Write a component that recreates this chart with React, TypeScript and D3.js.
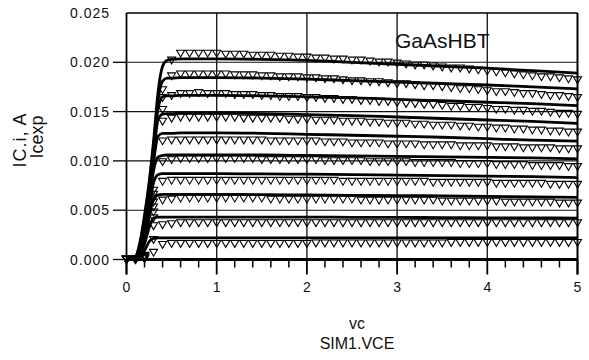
import React from 'react';
import * as d3 from 'd3';

const W = 589;
const H = 360;

const xTicks = [0, 1, 2, 3, 4, 5];
const xTickLabels = ['0', '1', '2', '3', '4', '5'];
const yTicks = [0, 0.005, 0.01, 0.015, 0.02, 0.025];
const yTickLabels = ['0.000', '0.005', '0.010', '0.015', '0.020', '0.025'];
const yTitle = ['IC.i, A', 'Icexp'];
const xTitle = ['vc', 'SIM1.VCE'];
const plotLabel = 'GaAsHBT';

// simulated curves (mA) on a shared VCE grid
const simVce = [0, 0.1, 0.15, 0.2, 0.25, 0.3, 0.35, 0.4, 0.45, 0.5, 0.6, 1, 1.5, 2, 2.5, 3, 3.5, 4, 4.5, 5];
const sim1 = [0, 0.3, 1.8, 4.5, 7.8, 12.0, 17.0, 19.6, 20.2, 20.3, 20.35, 20.35, 20.3, 20.2, 20.0, 19.8, 19.6, 19.4, 19.15, 18.9];
const sim2 = [0, 0.25, 1.6, 4.2, 7.4, 11.5, 16.2, 18.1, 18.4, 18.4, 18.45, 18.45, 18.4, 18.3, 18.15, 18.0, 17.85, 17.7, 17.5, 17.3];
const sim3 = [0, 0.2, 1.4, 3.9, 7.0, 11.0, 15.3, 16.5, 16.6, 16.6, 16.65, 16.65, 16.6, 16.5, 16.4, 16.25, 16.1, 15.95, 15.8, 15.6];
const sim4 = [0, 0.2, 1.3, 3.6, 6.6, 10.5, 14.2, 14.75, 14.8, 14.8, 14.85, 14.85, 14.8, 14.7, 14.6, 14.45, 14.3, 14.15, 14.0, 13.8];
const sim5 = [0, 0.15, 1.1, 3.2, 6.1, 9.9, 12.5, 12.8, 12.8, 12.8, 12.85, 12.85, 12.8, 12.7, 12.6, 12.5, 12.4, 12.25, 12.1, 12.0];
const sim6 = [0, 0.15, 1.0, 2.9, 5.6, 9.0, 10.4, 10.55, 10.6, 10.6, 10.6, 10.6, 10.6, 10.55, 10.5, 10.45, 10.4, 10.35, 10.3, 10.2];
const sim7 = [0, 0.1, 0.8, 2.5, 5.0, 7.8, 8.6, 8.7, 8.7, 8.7, 8.7, 8.7, 8.68, 8.65, 8.6, 8.55, 8.5, 8.45, 8.4, 8.3];
const sim8 = [0, 0.1, 0.7, 2.1, 4.2, 6.2, 6.55, 6.6, 6.6, 6.6, 6.6, 6.6, 6.58, 6.55, 6.5, 6.48, 6.45, 6.4, 6.35, 6.3];
const sim9 = [0, 0.08, 0.5, 1.6, 3.2, 4.2, 4.3, 4.3, 4.3, 4.3, 4.3, 4.3, 4.3, 4.3, 4.28, 4.27, 4.25, 4.23, 4.22, 4.2];
const sim10 = [0, 0.05, 0.3, 0.9, 1.8, 2.15, 2.2, 2.2, 2.2, 2.2, 2.2, 2.2, 2.2, 2.2, 2.2, 2.2, 2.2, 2.2, 2.2, 2.2];
const simCurves = [sim1, sim2, sim3, sim4, sim5, sim6, sim7, sim8, sim9, sim10];

// measured points (mA) every 0.1 V from 0 to 5
const measVce = d3.range(51).map((i) => i / 10);
const meas1 = [0, 0, 0.4, 7.0, 17.2, 20.2,
  20.9, 20.9, 20.9, 20.9, 20.9,
  20.8, 20.8, 20.8, 20.7, 20.7, 20.7, 20.6, 20.6, 20.5, 20.5,
  20.4, 20.4, 20.3, 20.3, 20.2, 20.2, 20.1, 20.0, 20.0, 19.9,
  19.8, 19.7, 19.7, 19.6, 19.5, 19.4, 19.4, 19.3, 19.2, 19.1,
  19.0, 18.9, 18.8, 18.7, 18.6, 18.5, 18.5, 18.4, 18.3, 18.2];
const meas2 = [0, 0, 0.35, 6.6, 16.4, 18.6,
  18.8, 18.8, 18.8, 18.8, 18.8,
  18.8, 18.7, 18.7, 18.7, 18.6, 18.6, 18.5, 18.5, 18.5, 18.4,
  18.4, 18.3, 18.3, 18.2, 18.1, 18.1, 18.0, 18.0, 17.9, 17.8,
  17.8, 17.7, 17.6, 17.6, 17.5, 17.4, 17.3, 17.3, 17.2, 17.1,
  17.0, 17.0, 16.9, 16.8, 16.8, 16.7, 16.6, 16.6, 16.5, 16.4];
const meas3 = [0, 0, 0.3, 6.2, 15.2, 16.6,
  16.8, 16.8, 16.9, 16.8, 16.8,
  16.8, 16.7, 16.7, 16.7, 16.6, 16.6, 16.5, 16.5, 16.5, 16.4,
  16.4, 16.3, 16.3, 16.2, 16.2, 16.1, 16.1, 16.0, 16.0, 15.9,
  15.8, 15.8, 15.7, 15.7, 15.6, 15.5, 15.5, 15.4, 15.4, 15.3,
  15.2, 15.2, 15.1, 15.1, 15.0, 15.0, 14.9, 14.8, 14.8, 14.7];
const meas4 = [0, 0, 0.3, 5.8, 14.0, 14.3,
  14.4, 14.4, 14.4, 14.4, 14.4,
  14.4, 14.4, 14.3, 14.3, 14.3, 14.3, 14.3, 14.2, 14.2, 14.2,
  14.1, 14.1, 14.1, 14.0, 14.0, 14.0, 13.9, 13.9, 13.8, 13.8,
  13.8, 13.7, 13.7, 13.6, 13.6, 13.6, 13.5, 13.5, 13.4, 13.4,
  13.3, 13.3, 13.2, 13.2, 13.1, 13.1, 13.0, 13.0, 12.9, 12.9];
const meas5 = [0, 0, 0.25, 5.3, 12.0, 12.1,
  12.1, 12.1, 12.1, 12.1, 12.1,
  12.1, 12.1, 12.1, 12.1, 12.1, 12.0, 12.0, 12.0, 12.0, 12.0,
  12.0, 11.9, 11.9, 11.9, 11.8, 11.8, 11.8, 11.8, 11.7, 11.7,
  11.7, 11.7, 11.6, 11.6, 11.6, 11.6, 11.5, 11.5, 11.5, 11.5,
  11.4, 11.4, 11.4, 11.3, 11.3, 11.3, 11.3, 11.2, 11.2, 11.2];
const meas6 = [0, 0, 0.2, 4.8, 9.9, 10.1,
  10.2, 10.2, 10.2, 10.2, 10.2,
  10.2, 10.2, 10.2, 10.2, 10.1, 10.1, 10.1, 10.1, 10.1, 10.1,
  10.1, 10.0, 10.0, 10.0, 10.0, 10.0, 9.9, 9.9, 9.9, 9.9,
  9.9, 9.8, 9.8, 9.8, 9.8, 9.8, 9.7, 9.7, 9.7, 9.7,
  9.6, 9.6, 9.6, 9.6, 9.5, 9.5, 9.5, 9.5, 9.4, 9.4];
const meas7 = [0, 0, 0.2, 4.2, 7.9, 8.0,
  8.0, 8.0, 8.0, 8.0, 8.0,
  8.0, 8.0, 8.0, 8.0, 8.0, 8.0, 8.0, 8.0, 8.0, 8.0,
  8.0, 8.0, 8.0, 7.9, 7.9, 7.9, 7.9, 7.9, 7.9, 7.9,
  7.9, 7.9, 7.9, 7.8, 7.8, 7.8, 7.8, 7.8, 7.8, 7.8,
  7.7, 7.7, 7.7, 7.7, 7.7, 7.7, 7.6, 7.6, 7.6, 7.6];
const meas8 = [0, 0, 0.15, 3.4, 6.0, 6.1,
  6.2, 6.2, 6.2, 6.2, 6.2,
  6.2, 6.2, 6.2, 6.2, 6.2, 6.1, 6.1, 6.1, 6.1, 6.1,
  6.1, 6.1, 6.1, 6.1, 6.1, 6.0, 6.0, 6.0, 6.0, 6.0,
  6.0, 6.0, 6.0, 6.0, 5.9, 5.9, 5.9, 5.9, 5.9, 5.9,
  5.9, 5.8, 5.8, 5.8, 5.8, 5.8, 5.8, 5.7, 5.7, 5.7];
const meas9 = [0, 0, 0.1, 2.0, 3.5, 3.6,
  3.7, 3.7, 3.7, 3.7, 3.7,
  3.7, 3.7, 3.7, 3.7, 3.7, 3.7, 3.7, 3.7, 3.7, 3.7,
  3.7, 3.7, 3.7, 3.7, 3.7, 3.7, 3.7, 3.7, 3.7, 3.7,
  3.7, 3.7, 3.7, 3.7, 3.7, 3.7, 3.7, 3.7, 3.7, 3.7,
  3.7, 3.7, 3.7, 3.7, 3.7, 3.7, 3.7, 3.7, 3.7, 3.7];
const meas10 = [0, 0, 0.05, 0.7, 1.5, 1.6,
  1.6, 1.6, 1.6, 1.6, 1.6,
  1.6, 1.6, 1.6, 1.6, 1.6, 1.6, 1.6, 1.6, 1.6, 1.6,
  1.65, 1.65, 1.65, 1.65, 1.65, 1.65, 1.65, 1.65, 1.65, 1.65,
  1.65, 1.65, 1.65, 1.65, 1.65, 1.7, 1.7, 1.7, 1.7, 1.7,
  1.7, 1.7, 1.7, 1.7, 1.7, 1.7, 1.7, 1.7, 1.7, 1.7];
const measCurves = [meas1, meas2, meas3, meas4, meas5, meas6, meas7, meas8, meas9, meas10];

const FONT = '"Liberation Sans", Arial, Helvetica, sans-serif';

export default function App() {
  const x = d3.scaleLinear().domain([0, 5]).range([126.5, 577.5]);
  const y = d3.scaleLinear().domain([0, 0.025]).range([259.5, 13]);
  const line = d3
    .line<[number, number]>()
    .x((d) => x(d[0]))
    .y((d) => y(d[1] / 1000))
    .curve(d3.curveMonotoneX);

  const minorX = d3.range(0, 26).map((i) => i / 5).filter((v) => Math.abs(v - Math.round(v)) > 1e-6);
  const tri = 'M-4,-3.2L4,-3.2L0,3.6Z';
  const x0 = x(0);
  const x1 = x(5);
  const yTop = y(0.025);
  const yBot = y(0);

  return (
    <svg width={W} height={H} style={{ position: 'absolute', left: 0, top: 0, background: '#fff' }} fontFamily={FONT}>
      <rect x={0} y={0} width={W} height={H} fill="#fff" />
      {/* grid */}
      {xTicks.slice(1, -1).map((t) => (
        <line key={'gx' + t} x1={x(t)} x2={x(t)} y1={yTop} y2={yBot} stroke="#111" strokeWidth={1.3} />
      ))}
      {yTicks.slice(1, -1).map((t) => (
        <line key={'gy' + t} x1={x0} x2={x1} y1={y(t)} y2={y(t)} stroke="#111" strokeWidth={1.1} />
      ))}
      {/* frame */}
      <line x1={x0} x2={x1} y1={yTop} y2={yTop} stroke="#000" strokeWidth={1.5} />
      <line x1={x1} x2={x1} y1={yTop} y2={yBot + 15} stroke="#000" strokeWidth={2} />
      <line x1={x0} x2={x0} y1={yTop} y2={yBot + 15} stroke="#000" strokeWidth={1.8} />
      {/* y ticks and labels */}
      {yTicks.map((t, i) => (
        <g key={'yt' + t}>
          {i < yTicks.length - 1 && (
            <line x1={113} x2={x0} y1={y(t)} y2={y(t)} stroke="#000" strokeWidth={1.3} />
          )}
          <text x={110} y={y(t) + 5} textAnchor="end" fontSize={14} letterSpacing={1} fill="#111">
            {yTickLabels[i]}
          </text>
        </g>
      ))}
      {/* x ticks */}
      {minorX.map((t) => (
        <line key={'mx' + t} x1={x(t)} x2={x(t)} y1={yBot} y2={yBot + 8} stroke="#000" strokeWidth={1.5} />
      ))}
      {xTicks.map((t, i) => (
        <g key={'xt' + t}>
          <line x1={x(t)} x2={x(t)} y1={yBot} y2={yBot + 15} stroke="#000" strokeWidth={1.8} />
          <text x={x(t)} y={292} textAnchor="middle" fontSize={14} fill="#111">
            {xTickLabels[i]}
          </text>
        </g>
      ))}
      {/* measured triangles */}
      {measCurves.map((c, ci) => (
        <g key={'m' + ci}>
          {c.map((v, i) => (
            <path
              key={i}
              d={tri}
              transform={`translate(${x(measVce[i])},${y(v / 1000)})`}
              fill="none"
              stroke="#000"
              strokeWidth={1.1}
            />
          ))}
        </g>
      ))}
      {/* simulated lines */}
      {simCurves.map((c, ci) => (
        <path
          key={'s' + ci}
          d={line(c.map((v, i) => [simVce[i], v] as [number, number])) || ''}
          fill="none"
          stroke="#000"
          strokeWidth={2.8}
          strokeLinejoin="round"
        />
      ))}
      {/* bottom axis line */}
      <line x1={x0} x2={x1} y1={yBot} y2={yBot} stroke="#000" strokeWidth={2.8} />
      {/* label */}
      <text x={395} y={48} fontSize={21} fill="#111">
        {plotLabel}
      </text>
      {/* y title */}
      <text transform="translate(26,140) rotate(-90)" textAnchor="middle" fontSize={18} letterSpacing={1} fill="#111">
        {yTitle[0]}
      </text>
      <text transform="translate(43,137) rotate(-90)" textAnchor="middle" fontSize={18} fill="#111">
        {yTitle[1]}
      </text>
      {/* x title */}
      <text x={357} y={329} textAnchor="middle" fontSize={16} fill="#111">
        {xTitle[0]}
      </text>
      <text x={357} y={349} textAnchor="middle" fontSize={16} fill="#111">
        {xTitle[1]}
      </text>
    </svg>
  );
}
